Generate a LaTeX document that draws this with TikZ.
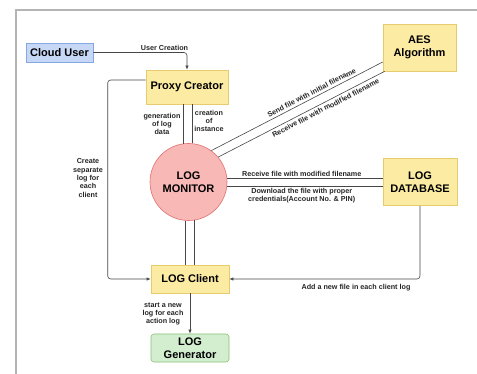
\documentclass[tikz,border=0pt]{standalone}
\usepackage{fontspec}
\setmainfont{Liberation Sans}
\usetikzlibrary{arrows.meta,calc}
\definecolor{yfill}{HTML}{FCEBA2}
\definecolor{ydraw}{HTML}{E6CC6E}
\definecolor{bfill}{HTML}{C6D8F6}
\definecolor{bdraw}{HTML}{86A8E2}
\definecolor{rfill}{HTML}{F7B8B6}
\definecolor{rdraw}{HTML}{E07070}
\definecolor{gfill}{HTML}{D3EDCF}
\definecolor{gdraw}{HTML}{8CC078}
\definecolor{framec}{HTML}{B4B4B4}
\begin{document}
\begin{tikzpicture}[x=1pt,y=-1pt,
  box/.style={draw=ydraw, fill=yfill, line width=0.6pt, align=center, inner sep=0pt,
    font=\bfseries\fontsize{11}{13}\selectfont},
  lbl/.style={font=\bfseries\fontsize{7.2}{8.3}\selectfont, align=center, text=black!85, inner sep=1.5pt},
  conn/.style={draw=black!72, line width=0.6pt},
  arr/.style={conn, -{Latex[length=4pt,width=3.2pt]}}
]
\useasboundingbox (0,0) rectangle (477,374);
\fill[white] (0,0) rectangle (477,374);
% frame
\draw[framec, line width=1.3pt] (16,374) -- (16,10) -- (477,10);

% nodes
\node[box, draw=bdraw, fill=bfill, minimum width=67pt, minimum height=19pt] (cu) at (59.5,52.5) {Cloud User};
\node[box, minimum width=82pt, minimum height=34pt] (proxy) at (187,87) {Proxy Creator};
\node[box, minimum width=73pt, minimum height=47pt] (aes) at (419.5,47.5) {AES\\Algorithm};
\node[circle, draw=rdraw, fill=rfill, line width=0.6pt, minimum size=77pt, inner sep=0pt, align=center,
      font=\bfseries\fontsize{11}{13}\selectfont] (mon) at (188.5,182) {LOG\\MONITOR};
\node[box, minimum width=74pt, minimum height=47pt] (db) at (420,182) {LOG\\DATABASE};
\node[box, minimum width=78pt, minimum height=28pt] (client) at (190,279) {LOG Client};
\node[box, draw=gdraw, fill=gfill, rounded corners=3pt, minimum width=78pt, minimum height=28pt] (gen) at (190,348) {LOG\\Generator};

% Cloud user -> proxy
\draw[arr, rounded corners=3pt] (cu.east) -| node[lbl, pos=0.38, anchor=south] {User Creation} (proxy.north);

% proxy - monitor double line
\draw[conn] (mon.98) -- (mon.98 |- proxy.south);
\draw[conn] (mon.85) -- (mon.85 |- proxy.south);
\node[lbl] (lgen) at (162,124) {generation\\of log\\data};
\node[lbl] (lcre) at (209,121) {creation\\of\\instance};

% monitor - client double line
\draw[conn] (mon.265) -- (mon.265 |- client.north);
\draw[conn] (mon.278) -- (mon.278 |- client.north);

% monitor - AES
\coordinate (a1) at ($(aes.west)+(0,14.5)$);
\coordinate (a2) at ($(aes.south west)+(2,0)$);
\draw[conn] (mon.54) -- node[lbl, pos=0.6, rotate=27.3, anchor=south, inner sep=2.6pt] {Send file with initial filename} (a1);
\draw[conn] (mon.40) -- node[lbl, pos=0.63, rotate=27.3, anchor=north, inner sep=2.6pt] {Receive file with modified filename} (a2);

% monitor - DB
\draw[conn] (mon.6) -- node[lbl, pos=0.48, anchor=south] {Receive file with modified filename} (mon.6 -| db.west);
\draw[conn] (mon.-6) -- node[lbl, pos=0.48, anchor=north] {Download the file with proper\\credentials(Account No. \& PIN)} (mon.-6 -| db.west);

% proxy -> client loop
\draw[arr, rounded corners=3pt] ($(proxy.west)+(0,-7)$) -- ++(-38,0) |- (client.west);
\node[lbl] (lsep) at (88,178) {Create\\separate\\log for\\each\\client};

% DB -> client
\draw[arr, rounded corners=3pt] (db.south) |- (client.east);
\node[lbl] (ladd) at (356,288) {Add a new file in each client log};

% client -> generator
\draw[arr] (client) -- (gen);
\node[lbl] (lstart) at (163,314) {start a new\\log for each\\action log};
\end{tikzpicture}
\end{document}
